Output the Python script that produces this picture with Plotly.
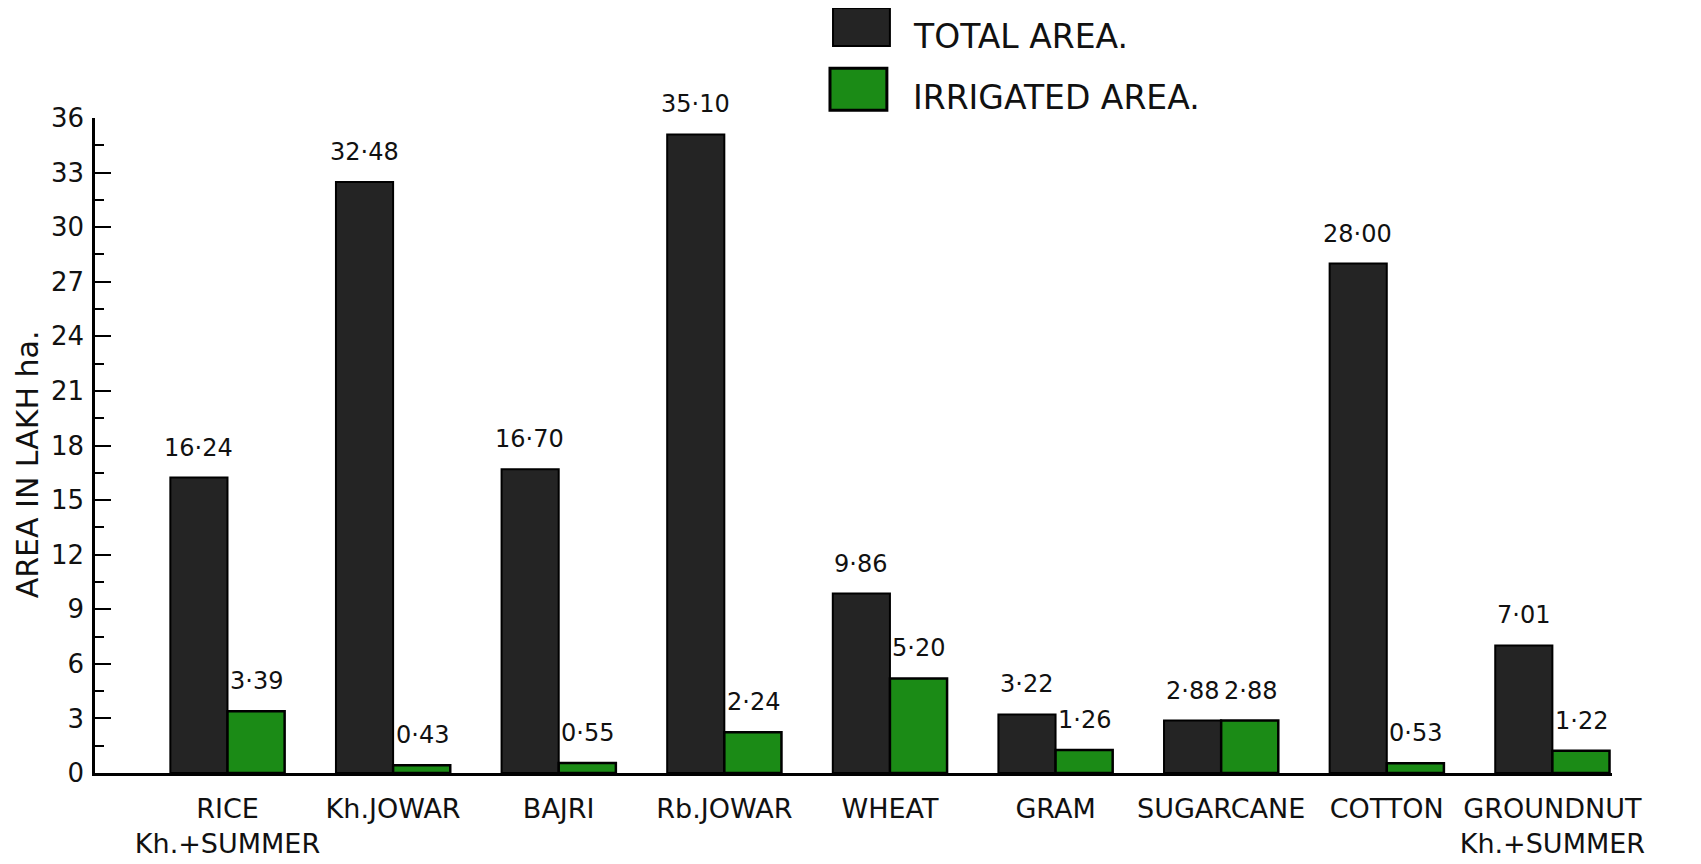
import plotly.graph_objects as go

categories = ["RICE<br>Kh.+SUMMER", "Kh.JOWAR", "BAJRI", "Rb.JOWAR", "WHEAT",
              "GRAM", "SUGARCANE", "COTTON", "GROUNDNUT<br>Kh.+SUMMER"]
total_area = [16.24, 32.48, 16.70, 35.10, 9.86, 3.22, 2.88, 28.00, 7.01]
irrigated_area = [3.39, 0.43, 0.55, 2.24, 5.20, 1.26, 2.88, 0.53, 1.22]
y_ticks = [0, 3, 6, 9, 12, 15, 18, 21, 24, 27, 30, 33, 36]

FONT = "DejaVu Sans, Liberation Sans, Arial"
BLACK = "#242424"
GREEN = "#1b8b16"

def fmt(v):
    return f"{v:.2f}".replace(".", "·")

fig = go.Figure()
fig.add_trace(go.Bar(name="TOTAL AREA.", x=categories, y=total_area,
                     marker=dict(color=BLACK, line=dict(color="#000", width=2))))
fig.add_trace(go.Bar(name="IRRIGATED AREA.", x=categories, y=irrigated_area,
                     marker=dict(color=GREEN, line=dict(color="#000", width=2.5))))

annotations = []
for c, t, g in zip(categories, total_area, irrigated_area):
    annotations.append(dict(x=c, y=t, xref="x", yref="y", text=fmt(t), showarrow=False,
                            xshift=-29, yshift=14, yanchor="bottom",
                            font=dict(family=FONT, size=24, color="#111")))
    annotations.append(dict(x=c, y=g, xref="x", yref="y", text=fmt(g), showarrow=False,
                            xshift=29, yshift=14, yanchor="bottom",
                            font=dict(family=FONT, size=24, color="#111")))

# y-axis title
annotations.append(dict(x=-0.0445, y=0.472, xref="paper", yref="paper", text="AREA IN LAKH ha.",
                        textangle=-90, showarrow=False, xanchor="center", yanchor="middle",
                        font=dict(family=FONT, size=30, color="#111")))
# legend text
annotations.append(dict(x=0.538, y=1.124, xref="paper", yref="paper", text="TOTAL AREA.",
                        xanchor="left", yanchor="middle", showarrow=False,
                        font=dict(family=FONT, size=33, color="#111")))
annotations.append(dict(x=0.538, y=1.031, xref="paper", yref="paper", text="IRRIGATED AREA.",
                        xanchor="left", yanchor="middle", showarrow=False,
                        font=dict(family=FONT, size=33, color="#111")))

shapes = [
    dict(type="rect", xref="paper", yref="paper", x0=0.4865, x1=0.524, y0=1.110, y1=1.168,
         fillcolor=BLACK, line=dict(color="#000", width=2)),
    dict(type="rect", xref="paper", yref="paper", x0=0.4845, x1=0.522, y0=1.012, y1=1.076,
         fillcolor=GREEN, line=dict(color="#000", width=3)),
]

# page body has an 8px margin, so the figure is 8px smaller and margins shifted
fig.update_layout(
    width=1693, height=856,
    margin=dict(l=87, r=89, t=110, b=91, autoexpand=False),
    paper_bgcolor="white", plot_bgcolor="white",
    barmode="group", bargap=0.31, bargroupgap=0,
    showlegend=False,
    annotations=annotations, shapes=shapes,
    font=dict(family=FONT, color="#111"),
)
fig.update_xaxes(range=[-0.8, 8.36], showline=True, linecolor="#000", linewidth=2.5,
                 ticks="", showgrid=False, automargin=False, tickangle=0,
                 tickfont=dict(family=FONT, size=27, color="#111"),
                 ticklabelstandoff=10)
fig.update_yaxes(range=[0, 36], tickvals=y_ticks, showline=True, linecolor="#000", linewidth=2.5,
                 ticks="inside", ticklen=16, tickwidth=2, tickcolor="#000",
                 minor=dict(ticks="inside", ticklen=9, tickwidth=2, tickcolor="#000", dtick=1.5),
                 showgrid=False, zeroline=False, automargin=False,
                 tickfont=dict(family=FONT, size=26, color="#111"), ticklabelstandoff=3)

fig.write_html("out.html")
